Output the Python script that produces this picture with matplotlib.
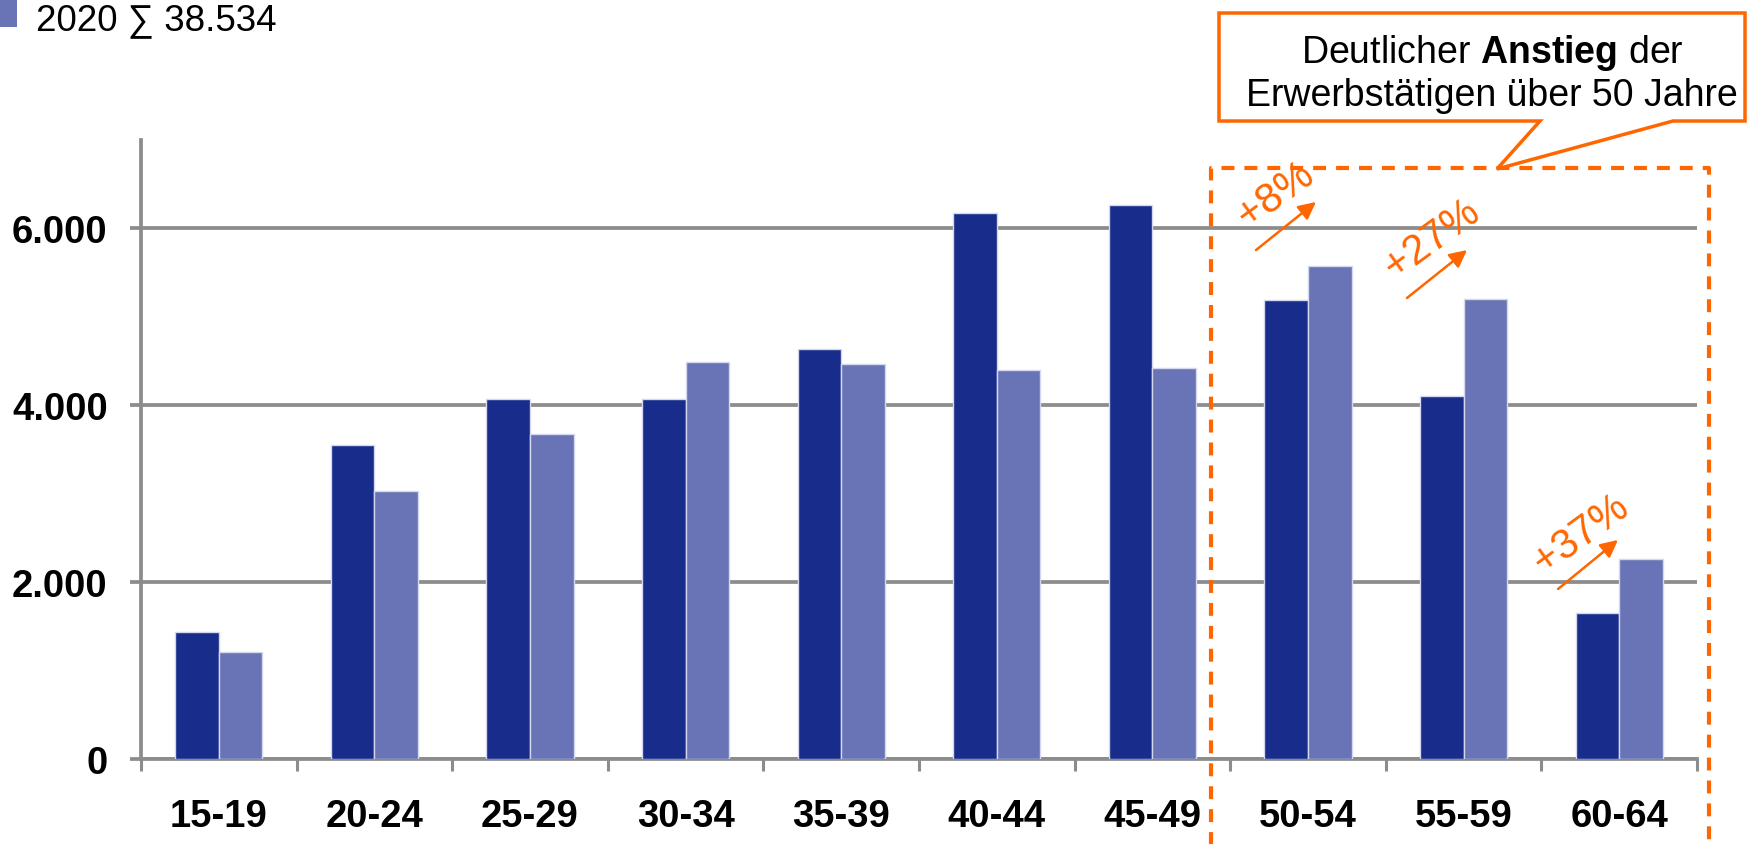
import matplotlib
matplotlib.use('Agg')
import matplotlib.pyplot as plt
from matplotlib.patches import Polygon, Rectangle
import numpy as np

plt.rcParams['font.family'] = ['Liberation Sans', 'DejaVu Sans']
plt.rcParams['mathtext.fontset'] = 'custom'
plt.rcParams['mathtext.rm'] = 'Liberation Sans'
plt.rcParams['mathtext.bf'] = 'Liberation Sans:bold'

# ---- data ----
categories = ['15-19', '20-24', '25-29', '30-34', '35-39', '40-44', '45-49', '50-54', '55-59', '60-64']
values_base = [1434, 3547, 4063, 4063, 4629, 6164, 6264, 5182, 4101, 1648]
values_2020 = [1208, 3031, 3673, 4491, 4465, 4390, 4415, 5572, 5195, 2264]
yticks = [0, 2000, 4000, 6000]
ytick_labels = ['0', '2.000', '4.000', '6.000']
legend_text = '2020 \u2211 38.534'
callout_line1 = r'Deutlicher $\mathbf{Anstieg}$ der'
callout_line2 = 'Erwerbstätigen über 50 Jahre'
pct_labels = ['+8%', '+27%', '+37%']
pct_text_pos = [(6.79, 6380), (7.80, 5880), (8.755, 2550)]
pct_arrow_tail = [(6.666, 5751), (7.636, 5209), (8.607, 1921)]
pct_arrow_head = [(7.051, 6294), (8.022, 5751), (8.992, 2475)]

DARK = '#182C8C'
LIGHT = '#6874B6'
EDGE = '#D4D8EE'
GRAY = '#8C8C8C'
ORANGE = '#FF6600'

W, H = 1747, 845
fig = plt.figure(figsize=(W / 100, H / 100), dpi=100)
ax = fig.add_axes([141 / W, 1 - 760 / H, (1697 - 141) / W, (760 - 140.5) / H])

x = np.arange(len(categories))
bw = 0.28
ax.bar(x - bw / 2, values_base, bw, color=DARK, edgecolor=EDGE, linewidth=1, zorder=3)
ax.bar(x + bw / 2, values_2020, bw, color=LIGHT, edgecolor=EDGE, linewidth=1, zorder=3)

ax.set_xlim(-0.5, len(categories) - 0.5)
ax.set_ylim(0, 7000)
ax.set_yticks(yticks)
ax.set_yticklabels(ytick_labels)
ax.yaxis.grid(True, color=GRAY, lw=2.7)
ax.set_axisbelow(True)

ax.set_xticks(np.arange(len(categories) + 1) - 0.5)
ax.set_xticklabels([])
ax.set_xticks(x, minor=True)
ax.set_xticklabels(categories, minor=True)
ax.tick_params(axis='x', which='minor', length=0, pad=28, labelsize=27.5)
ax.tick_params(axis='x', which='major', length=8.5, width=2.2, color=GRAY, direction='out')
ax.tick_params(axis='y', length=8, width=2.7, color=GRAY, pad=16, labelsize=27.5)
for lbl in ax.get_xticklabels(minor=True) + ax.get_yticklabels():
    lbl.set_fontweight('bold')

for s in ['top', 'right']:
    ax.spines[s].set_visible(False)
for s in ['left', 'bottom']:
    ax.spines[s].set_color(GRAY)
    ax.spines[s].set_linewidth(2.7)

# dashed highlight box around 50+ groups
ax.plot([6.377, 6.377, 9.577, 9.577], [-1300, 6678, 6678, -1300], color=ORANGE, lw=3,
        ls=(0, (3.1, 2.4)), clip_on=False, zorder=5)

# percent labels and arrows
for s, p, t, h in zip(pct_labels, pct_text_pos, pct_arrow_tail, pct_arrow_head):
    ax.text(p[0], p[1], s, rotation=36, color=ORANGE, fontsize=30, ha='center', va='center',
            rotation_mode='anchor', zorder=6)
    ax.annotate('', xy=h, xytext=t,
                arrowprops=dict(arrowstyle='-|>', color=ORANGE, lw=1.8, mutation_scale=26,
                                shrinkA=0, shrinkB=0), zorder=6)

# callout box
pts = [(1219, 14), (1745, 14), (1745, 122), (1673, 122), (1497, 170), (1540, 122), (1219, 122)]
poly = Polygon([(px / W, 1 - py / H) for px, py in pts], closed=True, facecolor='white',
               edgecolor=ORANGE, lw=2.5, transform=fig.transFigure, zorder=10)
fig.add_artist(poly)
fig.text(1492 / W, 1 - 53 / H, callout_line1, ha='center', va='center', fontsize=27, zorder=11)
fig.text(1492 / W, 1 - 96 / H, callout_line2, ha='center', va='center', fontsize=27, zorder=11)

# legend fragment
fig.add_artist(Rectangle((0, 1 - 28 / H), 17 / W, 28 / H, transform=fig.transFigure,
                         facecolor=LIGHT, edgecolor='none'))
fig.text(36 / W, 1 - 21 / H, legend_text, ha='left', va='center', fontsize=26.5)

fig.savefig('out.png', dpi=100)
